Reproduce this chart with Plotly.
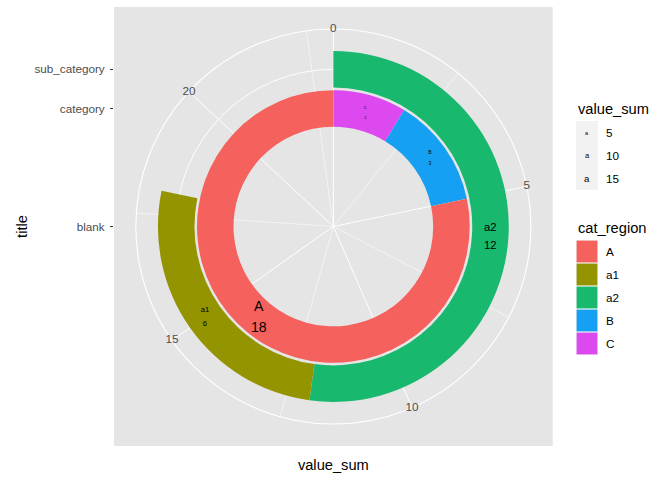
import numpy as np
import plotly.graph_objects as go

# ---------------- data ----------------
cat_labels = ["C", "B", "A"]
cat_values = [2, 3, 18]
sub_labels = ["a2", "a1"]
sub_values = [12, 6]
region_levels = ["A", "a1", "a2", "B", "C"]
theta_breaks = [0, 5, 10, 15, 20]
theta_minor_breaks = [2.5, 7.5, 12.5, 17.5, 22.5]
ring_levels = ["blank", "category", "sub_category"]
size_breaks = [5, 10, 15]

# ---------------- styles / layout constants ----------------
REGION_COLORS = {"A": "#F5625E", "a1": "#949400", "a2": "#19B86F",
                 "B": "#16A0F3", "C": "#DC4AEF"}
PANEL_BG = "#E5E5E5"
KEY_BG = "#F2F2F2"
FONT = "Liberation Sans, Arial, Helvetica, sans-serif"
W, H = 672, 480
PX0, PX1, PY0, PY1 = 114.0, 552.7, 7.0, 446.0      # panel box (px)
CX, CY = (PX0 + PX1) / 2, (PY0 + PY1) / 2
UNIT = PY1 - PY0                                     # px per radial unit
R_OUT = 0.45
RING_POS = {"blank": 0.0, "category": 0.269, "sub_category": 0.358}
HALF_BAND = 0.0416

total = sum(cat_values)
deg_per = 360.0 / total


def to_deg(v):
    return np.asarray(v, dtype=float) * deg_per


def text_size(v):
    return -1.2 + 3.6 * np.sqrt(np.asarray(v, dtype=float))


def px_x(x):
    return x / W


def px_y(y):
    return 1 - y / H


fig = go.Figure()

# dummy cartesian trace so the grey panel/axes are drawn
fig.add_trace(go.Scatter(x=[0], y=[0], mode="markers", marker=dict(opacity=0),
                         hoverinfo="skip", showlegend=False, xaxis="x", yaxis="y"))

# minor theta grid lines (subplot 1, below bars)
mr, mt = [], []
for b in theta_minor_breaks:
    mr += [0, R_OUT, None]
    mt += [float(to_deg(b)), float(to_deg(b)), None]
fig.add_trace(go.Scatterpolar(r=mr, theta=mt, mode="lines",
                              line=dict(color="white", width=0.55),
                              hoverinfo="skip", showlegend=False, subplot="polar"))


def ring_trace(labels, values, level):
    vals = np.asarray(values, dtype=float)
    start = np.cumsum(vals) - vals
    mid = RING_POS[level]
    return go.Barpolar(
        r=[2 * HALF_BAND] * len(vals), base=[mid - HALF_BAND] * len(vals),
        theta=to_deg(start + vals / 2), width=to_deg(vals),
        marker=dict(color=[REGION_COLORS[l] for l in labels], line=dict(width=0)),
        hoverinfo="skip", showlegend=False, subplot="polar2")


def ring_text(texts, values, level, position):
    vals = np.asarray(values, dtype=float)
    start = np.cumsum(vals) - vals
    return go.Scatterpolar(
        r=[RING_POS[level]] * len(vals), theta=to_deg(start + vals / 2),
        mode="markers+text", text=texts, textposition=position,
        marker=dict(size=3.6, opacity=0),
        textfont=dict(family=FONT, color="black", size=list(text_size(vals))),
        hoverinfo="skip", showlegend=False, subplot="polar2")


fig.add_trace(ring_trace(cat_labels, cat_values, "category"))
fig.add_trace(ring_trace(sub_labels, sub_values, "sub_category"))
fig.add_trace(ring_text(cat_labels, cat_values, "category", "top center"))
fig.add_trace(ring_text([str(v) for v in cat_values], cat_values, "category", "bottom center"))
fig.add_trace(ring_text(sub_labels, sub_values, "sub_category", "top center"))
fig.add_trace(ring_text([str(v) for v in sub_values], sub_values, "sub_category", "bottom center"))

# theta axis labels
fig.add_trace(go.Scatterpolar(
    r=[R_OUT] * len(theta_breaks), theta=to_deg(theta_breaks), mode="text",
    text=[str(b) for b in theta_breaks], textposition="middle center",
    textfont=dict(family=FONT, color="#4D4D4D", size=11.7),
    hoverinfo="skip", showlegend=False, subplot="polar2"))

R_PX = R_OUT * UNIT
dom_x = [px_x(CX - R_PX), px_x(CX + R_PX)]
dom_y = [px_y(CY + R_PX), px_y(CY - R_PX)]
ang_common = dict(rotation=90, direction="clockwise", thetaunit="degrees")

fig.update_layout(
    width=W, height=H, margin=dict(l=0, r=0, t=0, b=0),
    paper_bgcolor="white", plot_bgcolor=PANEL_BG,
    font=dict(family=FONT, color="black"),
    showlegend=False, dragmode=False, hovermode=False,
    xaxis=dict(domain=[px_x(PX0), px_x(PX1)], range=[-0.5, 0.5], showgrid=False,
               zeroline=False, showticklabels=False, ticks="", fixedrange=True,
               title=dict(text="value_sum", font=dict(size=14.67, color="black"),
                          standoff=13)),
    yaxis=dict(domain=[px_y(PY1), px_y(PY0)], range=[-0.5, 0.5], showgrid=False,
               zeroline=False, fixedrange=True,
               tickmode="array", tickvals=[RING_POS[l] for l in ring_levels],
               ticktext=ring_levels, ticks="outside", ticklen=3, tickwidth=1.07,
               tickcolor="#333333", ticklabelstandoff=3,
               tickfont=dict(size=11.7, color="#4D4D4D"),
               title=dict(text="title", font=dict(size=14.67, color="black"),
                          standoff=3)),
    polar=dict(
        domain=dict(x=dom_x, y=dom_y), bgcolor="rgba(0,0,0,0)",
        angularaxis=dict(**ang_common, tickmode="array",
                         tickvals=list(to_deg(theta_breaks)),
                         showticklabels=False, ticks="", showgrid=True,
                         gridcolor="white", gridwidth=1.1, showline=True,
                         linecolor="white", linewidth=1.1),
        radialaxis=dict(range=[0, R_OUT], tickmode="array",
                        tickvals=[RING_POS["category"], RING_POS["sub_category"]],
                        showgrid=True, gridcolor="white", gridwidth=1.1,
                        showline=False, showticklabels=False, ticks="")),
    polar2=dict(
        domain=dict(x=dom_x, y=dom_y), bgcolor="rgba(0,0,0,0)",
        angularaxis=dict(**ang_common, showgrid=False, showline=False,
                         showticklabels=False, ticks=""),
        radialaxis=dict(range=[0, R_OUT], visible=False)),
)

# ---------------- legends (drawn manually, ggplot style) ----------------
shapes, annos = [], []
LX = 576.0
KEY_W, KEY_H = 22.0, 23.0


def key_rect(y0, color, inset=0.0):
    shapes.append(dict(type="rect", xref="paper", yref="paper", layer="above",
                       x0=px_x(LX + inset), x1=px_x(LX + KEY_W - inset),
                       y0=px_y(y0 + KEY_H - inset), y1=px_y(y0 + inset),
                       fillcolor=color, line=dict(width=0)))


def label(x, y, text, size, color="black", xanchor="left"):
    annos.append(dict(xref="paper", yref="paper", x=px_x(x), y=px_y(y), text=text,
                      showarrow=False, xanchor=xanchor, yanchor="middle",
                      font=dict(family=FONT, size=size, color=color)))


# size legend
label(LX, 109, "value_sum", 14.67)
legend_a_sizes = [5.5, 7.5, 9.5]
for i, (b, s) in enumerate(zip(size_breaks, legend_a_sizes)):
    y0 = 121 + i * KEY_H
    key_rect(y0, KEY_BG)
    label(LX + KEY_W / 2, y0 + KEY_H / 2, "a", s, xanchor="center")
    label(LX + KEY_W + 6, y0 + KEY_H / 2, str(b), 11.7)

# fill legend
label(LX, 228, "cat_region", 14.67)
for i, lev in enumerate(region_levels):
    y0 = 240 + i * KEY_H
    key_rect(y0, KEY_BG)
    key_rect(y0, REGION_COLORS[lev], inset=0.6)
    label(LX + KEY_W + 6, y0 + KEY_H / 2, lev, 11.7)

fig.update_layout(shapes=shapes, annotations=annos)

fig.write_html("out.html")
